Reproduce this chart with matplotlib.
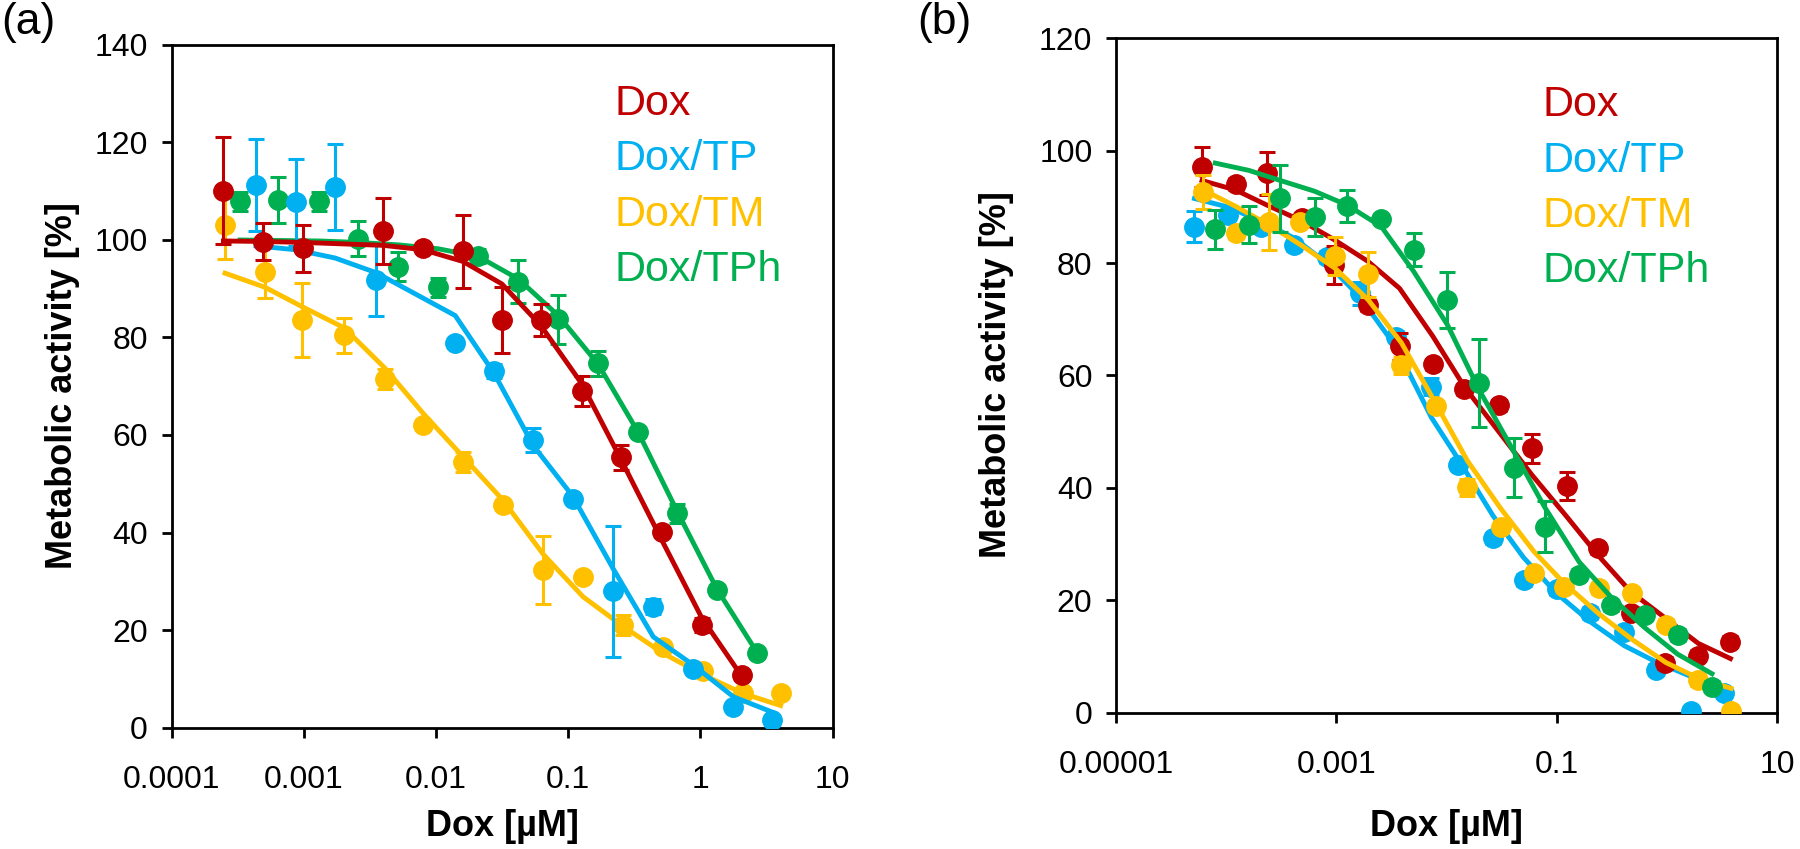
import matplotlib
matplotlib.use('Agg')
import matplotlib.pyplot as plt
from matplotlib.ticker import FixedLocator, FixedFormatter, NullLocator

plt.rcParams['font.family'] = ['Liberation Sans', 'DejaVu Sans']

RED = '#C00000'
BLUE = '#00B0F0'
YEL = '#FFC000'
GRN = '#00B050'

SERIES = ['Dox', 'Dox/TP', 'Dox/TM', 'Dox/TPh']

# ---------------- Panel (a) ----------------
A_DOX_X = [2.47e-4, 4.94e-4, 9.9e-4, 4.0e-3, 8.0e-3, 0.016, 0.0315, 0.062, 0.127, 0.251, 0.51, 1.026, 2.06]
A_DOX_Y = [110.1, 99.6, 98.3, 101.8, 98.3, 97.7, 83.6, 83.6, 69.0, 55.4, 40.1, 21.0, 10.7]
A_DOX_ERR = [11.0, 3.8, 4.8, 6.8, 1.0, 7.5, 6.7, 3.3, 3.0, 2.5, 1.0, 1.5, 1.0]
A_DOX_FIT = [99.8, 99.7, 99.5, 98.9, 98.0, 95.6, 91.0, 82.5, 70.5, 55.0, 38.5, 22.5, 10.5]

A_TP_X = [4.36e-4, 8.7e-4, 1.73e-3, 3.53e-3, 0.014, 0.0275, 0.0546, 0.108, 0.22, 0.441, 0.886, 1.78, 3.47]
A_TP_Y = [111.3, 107.7, 110.9, 91.8, 78.8, 73.1, 59.0, 46.9, 27.9, 24.8, 12.1, 4.3, 1.5]
A_TP_ERR = [9.5, 9.0, 8.8, 7.4, 0.0, 1.5, 2.5, 1.0, 13.4, 1.5, 1.0, 0.5, 0.5]
A_TP_FIT = [98.8, 98.0, 96.3, 93.3, 84.5, 72.7, 57.8, 47.5, 32.5, 18.6, 12.8, 6.3, 3.2]

A_TM_X = [2.54e-4, 5.1e-4, 9.77e-4, 2.02e-3, 4.12e-3, 8.03e-3, 0.0161, 0.032, 0.065, 0.130, 0.262, 0.525, 1.05, 2.1, 4.05]
A_TM_Y = [103.1, 93.5, 83.6, 80.5, 71.5, 62.1, 54.5, 45.6, 32.3, 30.8, 21.0, 16.6, 11.5, 7.0, 7.0]
A_TM_ERR = [7.0, 5.5, 7.6, 3.6, 2.0, 1.0, 2.0, 1.0, 7.0, 0.0, 2.0, 1.0, 1.0, 1.0, 0.5]
A_TM_FIT = [93.2, 90.3, 86.3, 82.0, 73.7, 64.4, 55.5, 46.7, 35.5, 26.8, 20.7, 15.2, 10.8, 7.0, 4.5]

A_TPH_X = [3.3e-4, 6.43e-4, 1.31e-3, 2.59e-3, 5.2e-3, 0.0104, 0.021, 0.042, 0.0843, 0.169, 0.34, 0.664, 1.33, 2.67]
A_TPH_Y = [107.9, 108.2, 107.9, 100.3, 94.5, 90.3, 96.7, 91.4, 83.7, 74.7, 60.7, 43.9, 28.2, 15.2]
A_TPH_ERR = [2.0, 4.7, 2.0, 3.5, 3.0, 2.0, 1.5, 4.4, 5.0, 2.5, 1.0, 2.0, 1.0, 1.0]
A_TPH_FIT = [100.0, 99.9, 99.8, 99.5, 99.0, 98.2, 96.6, 92.0, 84.5, 74.5, 60.5, 44.5, 28.5, 15.5]

A_XTICKS = [1e-4, 1e-3, 1e-2, 1e-1, 1, 10]
A_XLABELS = ['0.0001', '0.001', '0.01', '0.1', '1', '10']
A_YTICKS = [0, 20, 40, 60, 80, 100, 120, 140]

# ---------------- Panel (b) ----------------
B_DOX_X = [6.04e-5, 1.22e-4, 2.36e-4, 4.87e-4, 9.5e-4, 1.94e-3, 3.75e-3, 7.5e-3, 0.0145, 0.0298, 0.0596, 0.123, 0.237, 0.47, 0.97, 1.93, 3.78]
B_DOX_Y = [97.1, 94.1, 96.0, 88.0, 79.6, 72.5, 65.2, 62.0, 57.5, 54.7, 47.0, 40.3, 29.2, 17.7, 8.8, 10.1, 12.6]
B_DOX_ERR = [3.6, 1.0, 3.8, 1.0, 3.4, 1.0, 2.4, 1.0, 1.0, 1.0, 2.5, 2.5, 1.0, 1.0, 1.0, 1.0, 1.0]
B_DOX_FIT = [94.7, 93.0, 90.3, 87.5, 84.2, 80.3, 75.5, 67.0, 58.0, 50.0, 42.3, 34.9, 28.0, 21.5, 16.8, 12.3, 9.6]

B_TP_X = [5.15e-5, 1.03e-4, 2.05e-4, 4.1e-4, 8.2e-4, 1.63e-3, 3.5e-3, 7.3e-3, 0.0126, 0.0265, 0.05, 0.1, 0.2, 0.41, 0.8, 1.66, 3.3]
B_TP_Y = [86.5, 88.6, 86.5, 83.2, 81.1, 74.6, 66.9, 58.0, 44.1, 31.0, 23.6, 21.9, 17.7, 14.4, 7.6, 0.2, 3.4]
B_TP_ERR = [2.8, 1.0, 1.0, 1.0, 1.0, 2.0, 1.0, 1.5, 1.0, 1.0, 1.0, 1.0, 1.0, 1.0, 1.0, 0.5, 0.5]
B_TP_FIT = [91.5, 90.0, 87.5, 84.5, 80.0, 74.0, 65.0, 52.5, 45.3, 35.0, 27.6, 21.2, 16.2, 11.9, 9.0, 6.4, 4.3]

B_TM_X = [6.1e-5, 1.22e-4, 2.44e-4, 4.7e-4, 9.7e-4, 1.94e-3, 3.9e-3, 8.0e-3, 0.0155, 0.0311, 0.0625, 0.117, 0.244, 0.484, 0.98, 1.93, 3.83]
B_TM_Y = [92.6, 85.3, 87.3, 87.4, 81.3, 78.0, 61.8, 54.5, 40.1, 33.1, 24.8, 22.4, 22.1, 21.2, 15.6, 5.8, 0.2]
B_TM_ERR = [3.0, 1.0, 5.0, 1.0, 3.4, 4.0, 1.5, 1.0, 1.5, 1.0, 1.0, 1.0, 1.0, 1.0, 1.0, 1.0, 0.5]
B_TM_FIT = [93.1, 90.1, 86.8, 83.3, 79.1, 73.5, 65.8, 55.0, 44.8, 36.3, 28.6, 23.0, 17.5, 13.0, 8.9, 6.1, 4.3]

B_TPH_X = [7.96e-5, 1.61e-4, 3.11e-4, 6.34e-4, 1.26e-3, 2.56e-3, 5.04e-3, 0.0102, 0.0197, 0.0407, 0.0776, 0.16, 0.31, 0.63, 1.25, 2.57]
B_TPH_Y = [86.0, 86.8, 91.5, 88.2, 90.2, 87.8, 82.4, 73.4, 58.7, 43.6, 33.1, 24.5, 19.1, 17.4, 13.8, 4.6]
B_TPH_ERR = [3.5, 3.3, 6.0, 3.4, 2.9, 0.0, 2.9, 5.0, 7.8, 5.2, 4.5, 1.0, 1.0, 1.0, 1.0, 1.0]
B_TPH_FIT = [97.8, 96.5, 94.7, 92.8, 90.3, 86.5, 78.5, 69.0, 57.5, 46.5, 36.6, 26.8, 20.6, 15.1, 10.4, 6.9]

B_XTICKS = [1e-5, 1e-3, 1e-1, 10]
B_XLABELS = ['0.00001', '0.001', '0.1', '10']
B_YTICKS = [0, 20, 40, 60, 80, 100, 120]

XLABEL = 'Dox [\u00b5M]'
YLABEL = 'Metabolic activity [%]'

# ---------------- Figure ----------------
W, H = 1800, 849
fig = plt.figure(figsize=(W / 100, H / 100), dpi=100)


def px_axes(l, r, t, b):
    return fig.add_axes([l / W, 1 - b / H, (r - l) / W, (b - t) / H])


def draw(ax, x, y, err, fit, color, z):
    ax.plot(x, fit, color=color, lw=3.5, zorder=z, solid_joinstyle='round')
    ax.errorbar(x, y, yerr=err, fmt='o', ms=14, mfc=color, mec=color, color=color,
                ecolor=color, elinewidth=2.2, capsize=5.5, capthick=2.2, zorder=z + 0.5)


def style(ax, xlim, ylim, xticks, xlabels, yticks):
    ax.set_xscale('log')
    ax.set_xlim(*xlim)
    ax.set_ylim(*ylim)
    ax.xaxis.set_major_locator(FixedLocator(xticks))
    ax.xaxis.set_major_formatter(FixedFormatter(xlabels))
    ax.xaxis.set_minor_locator(NullLocator())
    ax.set_yticks(yticks)
    ax.set_yticklabels([str(v) for v in yticks])
    for sp in ax.spines.values():
        sp.set_linewidth(2.0)
        sp.set_color('black')
    ax.tick_params(axis='both', which='major', direction='out', length=7, width=2,
                   labelsize=23, colors='black')
    ax.tick_params(axis='x', pad=20)
    ax.tick_params(axis='y', pad=10)


axA = px_axes(171.5, 832.5, 45, 727.5)
axB = px_axes(1116, 1777, 38.4, 712.5)

draw(axA, A_TPH_X, A_TPH_Y, A_TPH_ERR, A_TPH_FIT, GRN, 2)
draw(axA, A_TM_X, A_TM_Y, A_TM_ERR, A_TM_FIT, YEL, 3)
draw(axA, A_TP_X, A_TP_Y, A_TP_ERR, A_TP_FIT, BLUE, 4)
draw(axA, A_DOX_X, A_DOX_Y, A_DOX_ERR, A_DOX_FIT, RED, 5)
style(axA, (1e-4, 10), (0, 140), A_XTICKS, A_XLABELS, A_YTICKS)

draw(axB, B_TP_X, B_TP_Y, B_TP_ERR, B_TP_FIT, BLUE, 2)
draw(axB, B_DOX_X, B_DOX_Y, B_DOX_ERR, B_DOX_FIT, RED, 3)
draw(axB, B_TM_X, B_TM_Y, B_TM_ERR, B_TM_FIT, YEL, 4)
draw(axB, B_TPH_X, B_TPH_Y, B_TPH_ERR, B_TPH_FIT, GRN, 5)
style(axB, (1e-5, 10), (0, 120), B_XTICKS, B_XLABELS, B_YTICKS)

# axis titles
fig.text(((171.5 + 832.5) / 2) / W, 1 - 827 / H, XLABEL, ha='center', va='center',
         fontsize=26, fontweight='bold')
fig.text(((1116 + 1777) / 2) / W, 1 - 827 / H, XLABEL, ha='center', va='center',
         fontsize=26, fontweight='bold')
fig.text(63 / W, 1 - 386 / H, YLABEL, ha='center', va='center', rotation=90,
         fontsize=26, fontweight='bold')
fig.text(997 / W, 1 - 375 / H, YLABEL, ha='center', va='center', rotation=90,
         fontsize=26, fontweight='bold')

# legends as coloured text
LEG_COLORS = [RED, BLUE, YEL, GRN]
LEG_BASE_A = [115, 170, 226, 281]
LEG_BASE_B = [116, 171.7, 226.7, 281.7]
for name, c, ba, bb in zip(SERIES, LEG_COLORS, LEG_BASE_A, LEG_BASE_B):
    fig.text(615 / W, 1 - ba / H, name, color=c, fontsize=31, va='baseline', ha='left')
    fig.text(1542 / W, 1 - bb / H, name, color=c, fontsize=31, va='baseline', ha='left')

# panel letters
fig.text(1 / W, 1 - 2 / H, '(a)', fontsize=32, va='top', ha='left')
fig.text(917 / W, 1 - 2 / H, '(b)', fontsize=32, va='top', ha='left')

fig.savefig('out.png', dpi=100, facecolor='white')
